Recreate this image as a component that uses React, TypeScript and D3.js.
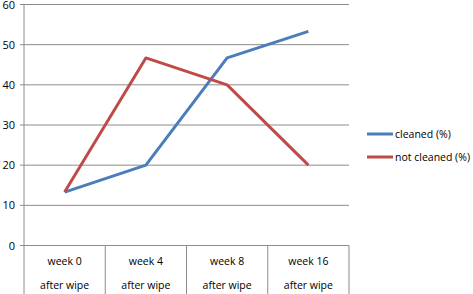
import React from "react";
import * as d3 from "d3";

const categories = ["week 0", "week 4", "week 8", "week 16"];
const subLabel = "after wipe";
const cleaned = [13.3, 20, 46.7, 53.3];
const notCleaned = [13.3, 46.7, 40, 20];
const yTicks = [0, 10, 20, 30, 40, 50, 60];
const seriesNames = ["cleaned (%)", "not cleaned (%)"];
const colors = ["#4A7EBB", "#BE4B48"];

export default function App() {
  const W = 473, H = 294;
  const left = 24, right = 349, top = 4.5, bottom = 245.5;
  const x = d3.scaleBand().domain(categories).range([left, right]);
  const y = d3.scaleLinear().domain([0, 60]).range([bottom, top]);
  const line = d3
    .line<number>()
    .x((_, i) => (x(categories[i]) as number) + x.bandwidth() / 2)
    .y((d) => y(d));
  const font = "'Open Sans', 'Liberation Sans', sans-serif";
  const series = [cleaned, notCleaned];
  return (
    <svg
      width={W}
      height={H}
      style={{ position: "absolute", left: 0, top: 0, background: "#fff" }}
      fontFamily={font}
    >
      {yTicks.map((t) => (
        <g key={t}>
          <line x1={left - 4} x2={right} y1={y(t)} y2={y(t)} stroke="#8c8c8c" strokeWidth={1} />
          <text x={15} y={y(t) + 4} textAnchor="end" fontSize={11} fill="#000">
            {t}
          </text>
        </g>
      ))}
      <line x1={left} x2={left} y1={top} y2={H} stroke="#8c8c8c" strokeWidth={1} />
      {categories.map((c, i) => (
        <g key={c}>
          <line
            x1={(x(c) as number) + x.bandwidth()}
            x2={(x(c) as number) + x.bandwidth()}
            y1={bottom}
            y2={H}
            stroke="#8c8c8c"
            strokeWidth={1}
          />
          <text x={(x(c) as number) + x.bandwidth() / 2} y={265} textAnchor="middle" fontSize={10.5} fill="#000">
            {c}
          </text>
          <text x={(x(c) as number) + x.bandwidth() / 2} y={289} textAnchor="middle" fontSize={10.5} fill="#000">
            {subLabel}
          </text>
        </g>
      ))}
      {series.map((s, i) => (
        <path key={i} d={line(s) as string} fill="none" stroke={colors[i]} strokeWidth={3} strokeLinejoin="round" />
      ))}
      {seriesNames.map((n, i) => (
        <g key={n}>
          <line x1={367} x2={393} y1={134 + i * 23} y2={134 + i * 23} stroke={colors[i]} strokeWidth={3} />
          <text x={395} y={134 + i * 23 + 4} fontSize={10.5} fill="#000">
            {n}
          </text>
        </g>
      ))}
    </svg>
  );
}
